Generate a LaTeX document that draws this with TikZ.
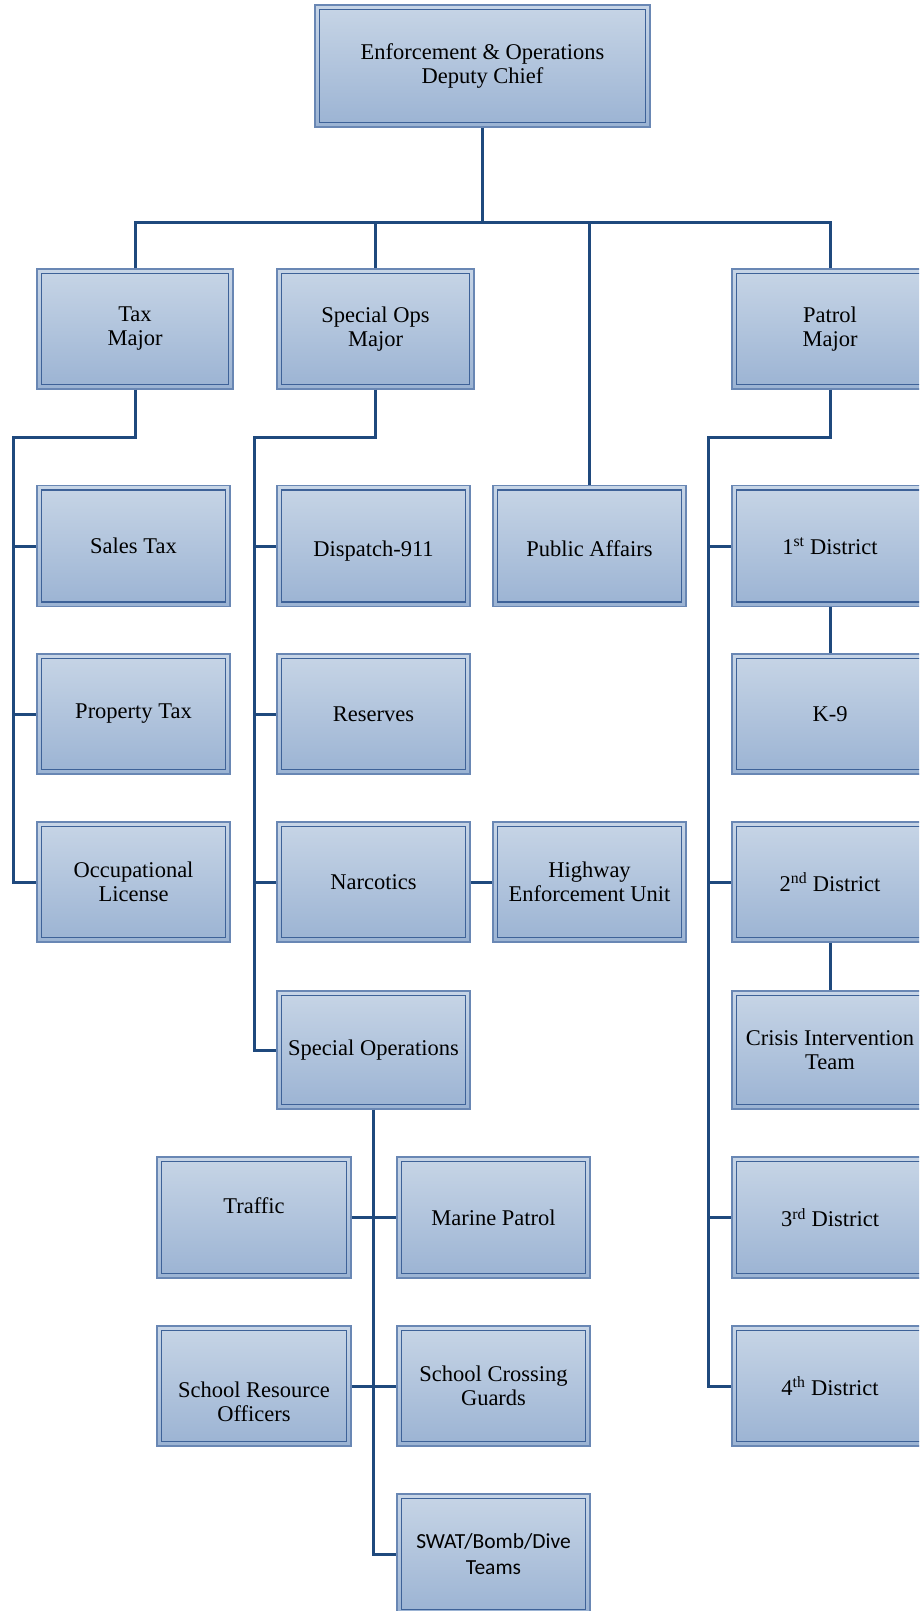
\documentclass[tikz,border=0pt]{standalone}
\usepackage{fontspec}
\setmainfont{Liberation Serif}
\newfontfamily\swatfont{Carlito}
\definecolor{conncol}{RGB}{31,73,125}
\definecolor{outercol}{RGB}{105,135,180}
\definecolor{innercol}{RGB}{62,98,152}
\definecolor{filltop}{RGB}{199,213,230}
\definecolor{fillbot}{RGB}{155,179,211}
\newcommand{\shiftby}[2]{\raisebox{#1}[\height][\depth]{#2}}
\tikzset{
  box/.style={draw=outercol, line width=1.3pt, top color=filltop, bottom color=fillbot,
    minimum width=193pt, minimum height=121pt, inner sep=0pt, align=center,
    font=\fontsize{22.5}{24}\selectfont,
    path picture={\draw[innercol, line width=1.2pt]
      ([shift={(4.5pt,-4.5pt)}]path picture bounding box.north west) rectangle
      ([shift={(-4.5pt,4.5pt)}]path picture bounding box.south east);}},
  conn/.style={draw=conncol, line width=3pt, line join=miter}
}
\begin{document}
\begin{tikzpicture}[x=1pt, y=-1pt]
\useasboundingbox (0,0) rectangle (919,1611);
\clip (0,0) rectangle (919,1611);
% nodes
\node[box, minimum width=335pt, minimum height=122pt] (top) at (482.5,66) {Enforcement \& Operations\\Deputy Chief};
\node[box, minimum width=196pt, minimum height=120pt] (tax) at (135,329) {Tax\\Major};
\node[box, minimum width=197pt, minimum height=120pt] (spec) at (375.5,329) {Special Ops\\Major};
\node[box, minimum width=196pt, minimum height=120pt] (patrol) at (830,329) {Patrol\\Major};

\node[box] (sales) at (133.5,546) {Sales Tax};
\node[box, minimum height=120pt] (prop) at (133.5,714) {Property Tax};
\node[box, minimum height=120pt] (occ) at (133.5,882) {Occupational\\License};

\node[box] (disp) at (373.5,546) {\shiftby{-5pt}{Dispatch-911}};
\node[box, minimum height=120pt] (res) at (373.5,714) {Reserves};
\node[box, minimum height=120pt] (narc) at (373.5,882) {Narcotics};
\node[box, minimum height=118pt] (sops) at (373.5,1050) {Special Operations};

\node[box] (pa) at (589.5,546) {\shiftby{-3pt}{Public Affairs}};
\node[box, minimum height=120pt] (hwy) at (589.5,882) {Highway\\Enforcement Unit};

\node[box, minimum width=196pt] (d1) at (830,546) {1\textsuperscript{st} District};
\node[box, minimum width=196pt, minimum height=120pt] (k9) at (830,714) {K-9};
\node[box, minimum width=196pt, minimum height=120pt] (d2) at (830,882) {2\textsuperscript{nd} District};
\node[box, minimum width=196pt, minimum height=118pt] (cit) at (830,1050) {Crisis Intervention\\Team};
\node[box, minimum width=196pt] (d3) at (830,1217.5) {3\textsuperscript{rd} District};
\node[box, minimum width=196pt, minimum height=120pt] (d4) at (830,1386) {4\textsuperscript{th} District};

\node[box, minimum width=194pt] (traffic) at (254,1217.5) {\shiftby{12pt}{Traffic}};
\node[box] (marine) at (493.5,1217.5) {Marine Patrol};
\node[box, minimum width=194pt, minimum height=120pt] (sro) at (254,1386) {\shiftby{-19pt}{\begin{tabular}{@{}c@{}}School Resource\\Officers\end{tabular}}};
\node[box, minimum height=120pt] (scg) at (493.5,1386) {School Crossing\\Guards};
\node[box, minimum height=120pt, font=\swatfont\fontsize{21.5}{26}\selectfont] (swat) at (493.5,1554) {SWAT/Bomb/Dive\\Teams};

% connectors
\coordinate (barL) at (135,222);
\coordinate (barR) at (830,222);
\draw[conn] (top.south) -- (top.south |- barL);
\draw[conn] (tax.north) -- (barL) -- (barR) -- (patrol.north);
\draw[conn] (spec.north |- barL) -- (spec.north);
\draw[conn] (pa.north |- barL) -- (pa.north);

\coordinate (taxT) at (13,437);
\draw[conn] (tax.south) |- (taxT) -- (taxT |- occ.west) -- (occ.west);
\draw[conn] (taxT |- sales.west) -- (sales.west);
\draw[conn] (taxT |- prop.west) -- (prop.west);

\coordinate (specT) at (254,437);
\draw[conn] (spec.south) |- (specT) -- (specT |- sops.west) -- (sops.west);
\draw[conn] (specT |- disp.west) -- (disp.west);
\draw[conn] (specT |- res.west) -- (res.west);
\draw[conn] (specT |- narc.west) -- (narc.west);
\draw[conn] (narc.east) -- (hwy.west);

\coordinate (patT) at (708,437);
\draw[conn] (patrol.south) |- (patT) -- (patT |- d4.west) -- (d4.west);
\draw[conn] (patT |- d1.west) -- (d1.west);
\draw[conn] (patT |- d2.west) -- (d2.west);
\draw[conn] (patT |- d3.west) -- (d3.west);
\draw[conn] (d1.south) -- (k9.north);
\draw[conn] (d2.south) -- (cit.north);

\coordinate (sopsB) at (373,1554);
\draw[conn] (sops.south) -- (sops.south |- sopsB) -- (swat.west);
\draw[conn] (traffic.east) -- (marine.west);
\draw[conn] (sro.east) -- (scg.west);
\end{tikzpicture}
\end{document}
